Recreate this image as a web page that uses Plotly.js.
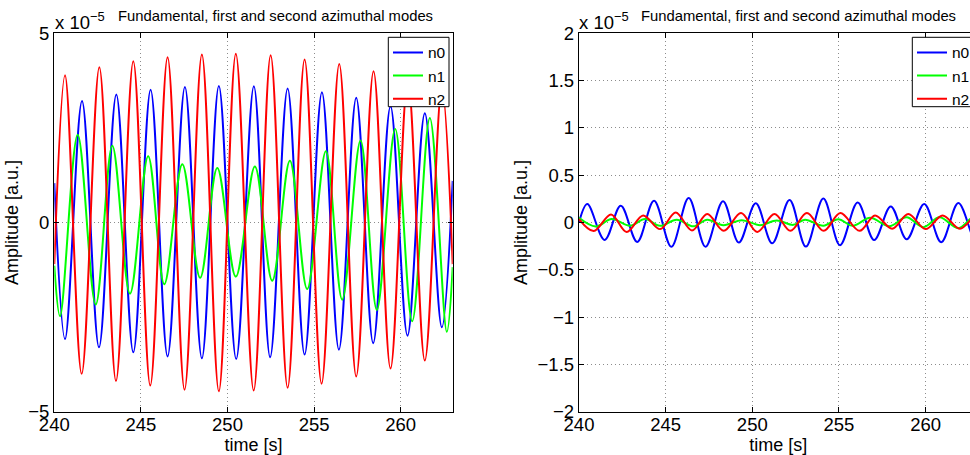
<!DOCTYPE html>
<html>
<head>
<meta charset="utf-8">
<script src="https://cdn.plot.ly/plotly-3.0.1.min.js"></script>
<style>
html,body{margin:0;padding:0;background:#fff;overflow:hidden;}
#chart{width:980px;height:455px;}
</style>
</head>
<body>
<div id="chart"></div>
<script>
// ---- data (amplitudes in units of 1e-5) ----
// Left panel
var leftN0Time = [240,240.62,241.60,242.58,243.58,244.56,245.56,246.54,247.54,248.52,249.50,250.50,251.52,252.46,253.47,254.45,255.45,256.43,257.43,258.41,259.41,260.39,261.39,262.37,263];
var leftN0Amp  = [1.04,-3.08,3.21,-3.30,3.38,-3.43,3.51,-3.54,3.58,-3.59,3.61,-3.61,3.60,-3.56,3.54,-3.49,3.44,-3.36,3.30,-3.19,3.07,-2.99,2.89,-2.77,1.10];

var leftN1Time = [240,240.33,241.35,242.39,243.35,244.37,245.42,246.35,247.39,248.42,249.41,250.48,251.58,252.58,253.60,254.60,255.68,256.62,257.68,258.62,259.68,260.66,261.68,262.66,263];
var leftN1Amp  = [-1.14,-2.48,2.32,-2.17,2.03,-1.88,1.75,-1.63,1.54,-1.46,1.44,-1.43,1.48,-1.54,1.63,-1.76,1.88,-2.04,2.17,-2.31,2.47,-2.61,2.76,-2.89,-1.18];

var leftN2Time = [240,240.62,241.58,242.60,243.56,244.56,245.54,246.54,247.52,248.52,249.50,250.48,251.51,252.49,253.47,254.45,255.43,256.45,257.43,258.43,259.41,260.41,261.39,262.37,263];
var leftN2Amp  = [-1.10,3.89,-4.00,4.10,-4.19,4.26,-4.31,4.37,-4.42,4.44,-4.46,4.46,-4.44,4.42,-4.37,4.31,-4.26,4.19,-4.07,4.00,-3.86,3.78,-3.65,3.58,-1.10];

// Right panel
var rightN0Time = [240,240.48,241.48,242.41,243.36,244.33,245.33,246.33,247.30,248.31,249.22,250.20,251.15,252.15,253.09,254.10,255.06,256.08,257.03,257.99,258.91,259.92,260.90,261.89,262.84,263];
var rightN0Amp  = [0.0,0.195,-0.184,0.178,-0.205,0.23,-0.256,0.259,-0.256,0.225,-0.212,0.203,-0.22,0.238,-0.255,0.253,-0.24,0.212,-0.186,0.17,-0.177,0.195,-0.208,0.205,-0.19,-0.16];

var rightN1Time = [240,240.96,241.89,242.94,243.81,244.67,245.64,246.60,247.40,248.33,249.39,250.45,251.41,252.37,253.04,254.10,254.96,255.80,256.80,257.90,258.90,259.87,260.80,261.89,262.75,263];
var rightN1Amp  = [0.05,-0.042,0.036,-0.035,0.036,-0.035,0.03,-0.04,0.03,-0.028,0.025,-0.028,0.022,-0.025,0.03,-0.035,0.035,-0.035,0.05,-0.04,0.055,-0.05,0.055,-0.06,0.06,0.055];

var rightN2Time = [240,240.85,241.85,242.75,243.70,244.68,245.58,246.52,247.40,248.35,249.35,250.28,251.28,252.20,253.15,254.12,255.08,256.19,257.08,258.07,259.00,260.00,260.98,261.98,262.90,263];
var rightN2Amp  = [0.036,-0.09,0.085,-0.1,0.075,-0.07,0.105,-0.085,0.09,-0.088,0.1,-0.1,0.09,-0.088,0.1,-0.088,0.1,-0.088,0.075,-0.065,0.09,-0.07,0.075,-0.065,0.08,0.075];

var seriesNames = ['n0','n1','n2'];
var seriesColors = ['#0000ff','#00ff00','#ff0000'];
var xTicks = [240,245,250,255,260];
var leftYTicks = [-5,0,5];
var rightYTicks = [-2,-1.5,-1,-0.5,0,0.5,1,1.5,2];
var panelTitle = 'Fundamental, first and second azimuthal modes';
var expLabel = 'x 10<sup>\u22125</sup>';
var xTitle = 'time [s]';
var yTitle = 'Amplitude [a.u.]';

// ---- figure ----
var W = 980, H = 455;
var FONT = 'Liberation Sans, Arial, Helvetica, sans-serif';
function px(x){return x/W;}
function py(y){return 1 - y/H;}

var leftX = [leftN0Time,leftN1Time,leftN2Time], leftY=[leftN0Amp,leftN1Amp,leftN2Amp];
var rightX = [rightN0Time,rightN1Time,rightN2Time], rightY=[rightN0Amp,rightN1Amp,rightN2Amp];
var traces = [];
for (var i=0;i<3;i++){
  traces.push({x:leftX[i], y:leftY[i], type:'scatter', mode:'lines', name:seriesNames[i],
    line:{color:seriesColors[i], width:2, shape:'spline', smoothing:1},
    xaxis:'x', yaxis:'y', legend:'legend'});
}
for (var j=0;j<3;j++){
  traces.push({x:rightX[j], y:rightY[j], type:'scatter', mode:'lines', name:seriesNames[j],
    line:{color:seriesColors[j], width:2, shape:'spline', smoothing:1},
    xaxis:'x2', yaxis:'y2', legend:'legend2'});
}

var GRID = {showgrid:true, gridcolor:'#8c8c8c', griddash:'1px,3px', gridwidth:1};
function xaxisDef(domain, anchor){
  return Object.assign({domain:domain, anchor:anchor, range:[240,263], tickvals:xTicks,
    ticks:'inside', ticklen:5, tickcolor:'#000', mirror:'ticks', showline:true, linecolor:'#000', linewidth:1.2,
    zeroline:false, ticklabelstandoff:-4,
    tickfont:{family:FONT, size:18.5, color:'#000'},
    title:{text:xTitle, font:{family:FONT, size:18, color:'#000'}, standoff:3}}, GRID);
}
function yaxisDef(domain, anchor, range, tv){
  return Object.assign({domain:domain, anchor:anchor, range:range, tickvals:tv,
    ticks:'inside', ticklen:5, tickcolor:'#000', mirror:'ticks', showline:true, linecolor:'#000', linewidth:1.2,
    zeroline:false,
    tickfont:{family:FONT, size:18.5, color:'#000'},
    title:{text:yTitle, font:{family:FONT, size:18, color:'#000'}, standoff:5}}, GRID);
}

var yDom = [py(411.7), py(33.3)];
var legendCommon = {bgcolor:'rgba(0,0,0,0)', borderwidth:0,
    font:{family:FONT, size:15.5, color:'#000'}, tracegroupgap:0, itemwidth:30};
var boxStyle = {type:'rect', xref:'paper', yref:'paper', layer:'above', fillcolor:'#fff', line:{color:'#000', width:1}};
var layout = {
  width:W, height:H, margin:{l:0,r:0,t:0,b:0},
  paper_bgcolor:'#fff', plot_bgcolor:'#fff',
  font:{family:FONT, color:'#000'},
  showlegend:true,
  xaxis: xaxisDef([px(54.3), px(452.7)], 'y'),
  yaxis: yaxisDef(yDom, 'x', [-5,5], leftYTicks),
  xaxis2: xaxisDef([px(579), px(977.6)], 'y2'),
  yaxis2: yaxisDef(yDom, 'x2', [-2,2], rightYTicks),
  legend: Object.assign({x:px(388), xanchor:'left', y:py(35.8), yanchor:'top'}, legendCommon),
  legend2: Object.assign({x:px(912), xanchor:'left', y:py(35.8), yanchor:'top'}, legendCommon),
  shapes:[
    Object.assign({x0:px(388.3), x1:px(449), y0:py(106.7), y1:py(37.3)}, boxStyle),
    Object.assign({x0:px(912.3), x1:px(990), y0:py(106.7), y1:py(37.3)}, boxStyle)
  ],
  annotations:[
    {text:panelTitle, xref:'paper', yref:'paper', x:px(275), y:py(16), xanchor:'center', yanchor:'middle', showarrow:false, font:{family:FONT, size:14.8, color:'#000'}},
    {text:panelTitle, xref:'paper', yref:'paper', x:px(798), y:py(16), xanchor:'center', yanchor:'middle', showarrow:false, font:{family:FONT, size:14.8, color:'#000'}},
    {text:expLabel, xref:'paper', yref:'paper', x:px(53), y:py(21), xanchor:'left', yanchor:'middle', showarrow:false, font:{family:FONT, size:18.5, color:'#000'}},
    {text:expLabel, xref:'paper', yref:'paper', x:px(576.5), y:py(21), xanchor:'left', yanchor:'middle', showarrow:false, font:{family:FONT, size:18.5, color:'#000'}}
  ]
};

Plotly.newPlot('chart', traces, layout, {staticPlot:true, displayModeBar:false});
</script>
</body>
</html>
